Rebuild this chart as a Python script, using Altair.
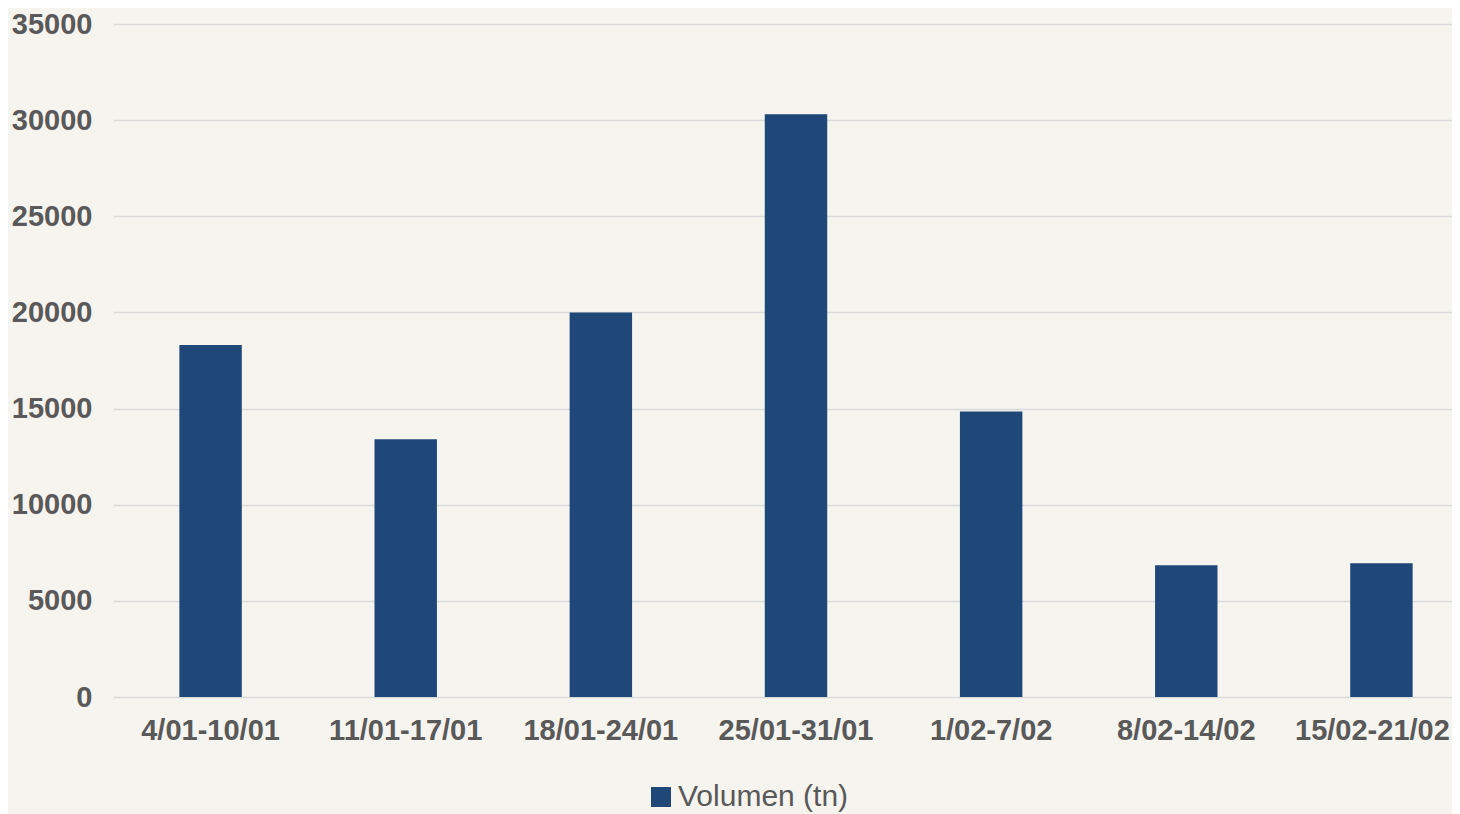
import altair as alt
import pandas as pd

weeks = ["4/01-10/01", "11/01-17/01", "18/01-24/01", "25/01-31/01",
         "1/02-7/02", "8/02-14/02", "15/02-21/02"]
volumen = [18300, 13400, 20000, 30300, 14850, 6850, 6950]
series = ["Volumen (tn)"] * len(weeks)
y_ticks = [0, 5000, 10000, 15000, 20000, 25000, 30000, 35000]

df = pd.DataFrame({"semana": weeks, "volumen": volumen, "serie": series})

FONT = "Liberation Sans"
TEXT = "#595959"
BAR = "#1F4778"
BG = "#F5F4EF"

chart = alt.Chart(df).mark_bar(color=BAR).encode(
    x=alt.X("semana:N", sort=weeks, title=None,
            scale=alt.Scale(range=[0, 1366], paddingInner=0.68, paddingOuter=0.34),
            axis=alt.Axis(labelAngle=0, labelFont=FONT, labelFontSize=29,
                          labelFontWeight="bold", labelColor=TEXT,
                          domain=False, ticks=False, tickSize=0, labelPadding=19,
                          grid=False, labelOverlap=False, labelLimit=400,
                          labelOffset=alt.expr("datum.value === '15/02-21/02' ? -9 : 0"))),
    y=alt.Y("volumen:Q", title=None,
            scale=alt.Scale(domain=[0, 35000], nice=False),
            axis=alt.Axis(values=y_ticks, format="d", labelFont=FONT, labelFontSize=29,
                          labelFontWeight="bold", labelColor=TEXT,
                          domain=False, ticks=False, tickSize=0, labelPadding=21,
                          grid=True, gridColor="#D9D9D9", gridWidth=1.5)),
    color=alt.Color("serie:N", scale=alt.Scale(range=[BAR]),
                    legend=alt.Legend(title=None, orient="none", legendX=533, legendY=758,
                                      symbolType="square", symbolSize=400,
                                      symbolStrokeWidth=0, labelFont=FONT,
                                      labelFontSize=30, labelColor=TEXT,
                                      labelOffset=2, padding=0, labelLimit=400)),
).properties(
    width=1339, height=673,
    autosize=alt.AutoSizeParams(type="none"),
    padding={"left": 105, "top": 16, "right": 0, "bottom": 117},
    background=BG,
).configure_view(stroke=None)

chart.save("out.html", embed_options={"renderer": "svg", "actions": False})
